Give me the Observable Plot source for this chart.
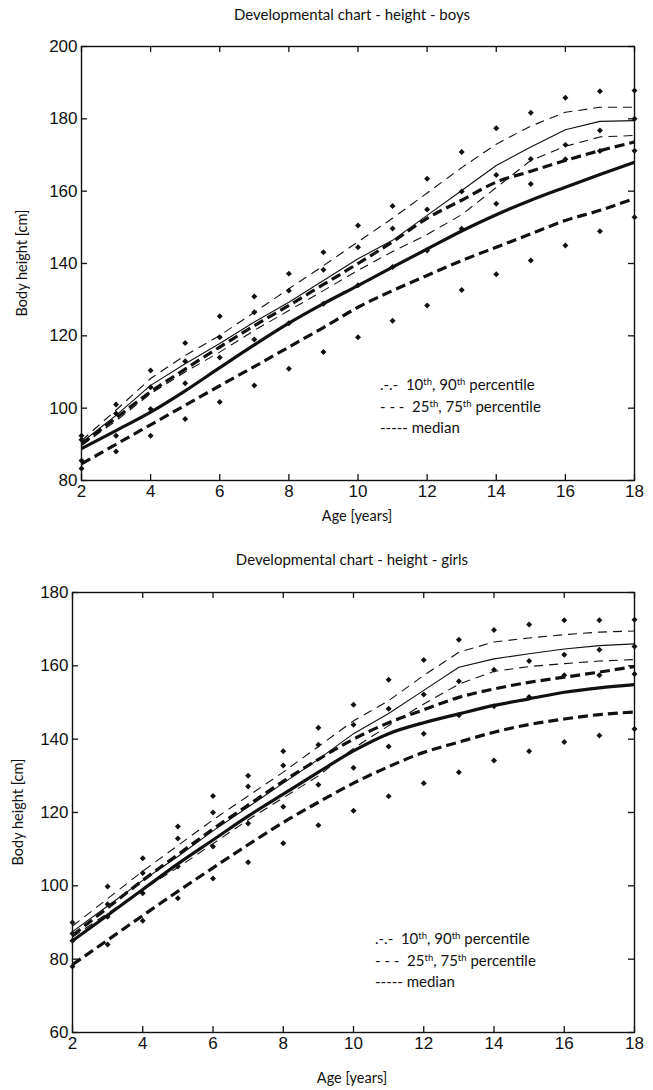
<!DOCTYPE html>
<html><head><meta charset="utf-8">
<script src="https://cdn.jsdelivr.net/npm/d3@7"></script>
<script src="https://cdn.jsdelivr.net/npm/@observablehq/plot@0.6"></script>
<style>
body{margin:0;background:#fff;width:653px;height:1090px;position:relative;overflow:hidden;font-family:Lato,"Open Sans",sans-serif;color:#111;}
.abs{position:absolute;white-space:nowrap;}
.title{font-size:15px;transform:translateX(-50%);}
.xlab{font-size:14.5px;transform:translateX(-50%);}
.ylab{font-size:14.5px;transform:translate(-50%,-50%) rotate(-90deg);}
.leg{font-size:15px;line-height:21.5px;}
.leg sup{font-size:9.5px;vertical-align:5px;line-height:0;}
</style></head><body>
<div id="c1" class="abs" style="left:0;top:0"></div>
<div id="c2" class="abs" style="left:0;top:546px"></div>
<div class="abs title" style="left:352px;top:5px">Developmental chart - height - boys</div>
<div class="abs xlab" style="left:357px;top:507px">Age [years]</div>
<div class="abs ylab" style="left:21px;top:263px">Body height [cm]</div>
<div class="abs leg" style="left:380px;top:374px">
<div>.-.-&nbsp; 10<sup>th</sup>, 90<sup>th</sup> percentile</div>
<div>- - -&nbsp; 25<sup>th</sup>, 75<sup>th</sup> percentile</div>
<div>----- median</div>
</div>
<div class="abs title" style="left:352px;top:550px">Developmental chart - height - girls</div>
<div class="abs xlab" style="left:352px;top:1069px">Age [years]</div>
<div class="abs ylab" style="left:17px;top:812px">Body height [cm]</div>
<div class="abs leg" style="left:375px;top:928px">
<div>.-.-&nbsp; 10<sup>th</sup>, 90<sup>th</sup> percentile</div>
<div>- - -&nbsp; 25<sup>th</sup>, 75<sup>th</sup> percentile</div>
<div>----- median</div>
</div>
<script>
const ages = [2,3,4,5,6,7,8,9,10,11,12,13,14,15,16,17,18];
const xTicks = [2,4,6,8,10,12,14,16,18];
const boysYTicks = [80,100,120,140,160,180,200];
const girlsYTicks = [60,80,100,120,140,160,180];

// Boys
const boysThinUpper = [91,99.5,108.2,114.6,120.1,126.5,133,139.4,146,152.5,159.5,166.5,173,178,181.8,183.2,183.2];
const boysThinMid   = [90.5,98,106.3,112.3,117.9,123.8,129.3,135.3,141.3,146.4,153.3,160.2,167.1,172.2,177,179.3,179.5];
const boysThinLower = [89.7,96.5,104,110,115.5,121.5,127,132.5,138.1,143.3,148,153.5,161,168.5,172.4,175,175.4];
const boysThickUpper = [90,97.3,104.5,110.8,116.9,122.8,128.4,134.2,140,146,152.5,157.5,162.5,165.5,168.5,171.2,173.6];
const boysThickMid   = [88.8,93.8,98.9,104.8,111.2,117.5,123.5,128.9,133.9,139,144,149,153.5,157.5,161.1,164.6,168];
const boysThickLower = [84.6,90,95.4,100.8,106.2,111.5,116.9,122.3,127.9,132.5,136.7,140.8,144.5,148.2,151.9,154.7,158];
const boysDot1 = [92.4,101,110.4,118,125.4,130.9,137.2,143.1,150.5,155.9,163.4,170.8,177.4,181.7,185.8,187.6,187.8];
const boysDot2 = [91.3,98.5,105.8,113,119.6,126.5,132.5,138.3,144.5,149.7,154.9,159.9,164.5,168.9,172.8,176.8,180];
const boysDot3 = [85.5,92.4,99.8,106.9,114,119,123.5,128.9,134,139,143.6,149.6,156.5,162,168.8,171.1,171.2];
const boysDot4 = [83.3,88,92.4,97,101.7,106.3,110.9,115.5,119.6,124.2,128.4,132.7,137,140.8,145,148.9,152.8];

// Girls
const girlsThinUpper = [89,96.5,104,111,118,124.5,131,138,145,150.5,157.4,163.7,166.5,167.6,168.5,169.2,169.5];
const girlsThinMid   = [87.5,94.5,101.5,108,115,121.5,128,134.5,141.5,147,153.3,159.6,161.9,163.3,164.6,165.5,166];
const girlsThinLower = [86,92.5,99,105,111.5,118,124,130,137.5,143.7,149.6,155,158.5,159.8,160.6,161.3,161.7];
const girlsThickUpper = [86.5,94,101.5,108.5,115.5,122,128.5,134.5,140,144.5,148,151.4,153.7,155.5,156.9,158.3,159.8];
const girlsThickMid   = [85,92,99,106,112.5,119,125,131,136.8,141.5,144.5,146.9,149.2,151,152.8,154,154.9];
const girlsThickLower = [78.5,85.2,91.9,98.5,104.9,111.2,117.3,122.8,128,132.5,136.4,139.2,141.9,144,145.5,146.7,147.4];
const girlsDot1 = [90,99.8,107.5,116.2,124.5,130,136.7,143.1,149.4,156.2,161.6,167.1,169.8,171.3,172.4,172.4,172.6];
const girlsDot2 = [87,95,103.5,112.9,120,127.1,132.8,138.5,143.9,148.3,152.2,155.8,158.9,161.3,163,164.4,165.3];
const girlsDot3 = [85,91.6,98,105.3,110.7,117,121.6,127.6,132.2,138,141.5,146.5,149,151.5,157.4,157.4,157.8];
const girlsDot4 = [78,84,90.5,96.6,102,106.4,111.6,116.5,120.5,124.4,128,131,134.2,136.7,139.2,141,142.8];

function chart(o) {
  const W = 653, mr = 19;
  const plotH = o.height - o.mt - o.mb, plotW = W - o.ml - mr;
  const ink = "#111";
  const line = (vals, opts) => Plot.line(vals, {x: (d, i) => ages[i], y: d => d, stroke: ink, strokeLinecap: "butt", ...opts});
  const dots = (vals) => Plot.dot(vals, {x: (d, i) => ages[i], y: d => d, symbol: "diamond2", r: 2.7, fill: ink, stroke: "none"});
  return Plot.plot({
    width: W, height: o.height,
    marginLeft: o.ml, marginRight: mr, marginTop: o.mt, marginBottom: o.mb,
    style: {fontFamily: "'Liberation Sans Narrow','Liberation Sans',Arial,sans-serif", fontSize: "17px", color: ink, background: "transparent"},
    x: {domain: [2, 18]},
    y: {domain: o.yDomain},
    marks: [
      Plot.tickX(xTicks, {x: d => d, insetTop: plotH - 6, stroke: ink, strokeWidth: 1.3}),
      Plot.tickX(xTicks, {x: d => d, insetBottom: plotH - 6, stroke: ink, strokeWidth: 1.3}),
      Plot.tickY(o.yTicks, {y: d => d, insetRight: plotW - 6, stroke: ink, strokeWidth: 1.3}),
      Plot.tickY(o.yTicks, {y: d => d, insetLeft: plotW - 6, stroke: ink, strokeWidth: 1.3}),
      Plot.axisX(xTicks, {tickSize: 0, tickPadding: 4, label: null}),
      Plot.axisY(o.yTicks, {tickSize: 0, tickPadding: 4, label: null}),
      line(o.thinUpper, {strokeWidth: 1.1, strokeDasharray: "9,6"}),
      line(o.thinMid, {strokeWidth: 1.1}),
      line(o.thinLower, {strokeWidth: 1.1, strokeDasharray: "9,6"}),
      line(o.thickUpper, {strokeWidth: 3.2, strokeDasharray: "10,5", curve: "monotone-x"}),
      line(o.thickMid, {strokeWidth: 3.2, curve: "monotone-x"}),
      line(o.thickLower, {strokeWidth: 3.2, strokeDasharray: "10,5", curve: "monotone-x"}),
      dots(o.d1), dots(o.d2), dots(o.d3), dots(o.d4),
      Plot.frame({stroke: ink, strokeWidth: 1.4})
    ]
  });
}

document.getElementById("c1").appendChild(chart({
  height: 510, mt: 46, mb: 30, ml: 81,
  yDomain: [80, 200], yTicks: boysYTicks,
  thinUpper: boysThinUpper, thinMid: boysThinMid, thinLower: boysThinLower,
  thickUpper: boysThickUpper, thickMid: boysThickMid, thickLower: boysThickLower,
  d1: boysDot1, d2: boysDot2, d3: boysDot3, d4: boysDot4
}));
document.getElementById("c2").appendChild(chart({
  height: 516, mt: 46, mb: 30, ml: 72,
  yDomain: [60, 180], yTicks: girlsYTicks,
  thinUpper: girlsThinUpper, thinMid: girlsThinMid, thinLower: girlsThinLower,
  thickUpper: girlsThickUpper, thickMid: girlsThickMid, thickLower: girlsThickLower,
  d1: girlsDot1, d2: girlsDot2, d3: girlsDot3, d4: girlsDot4
}));
</script>
</body></html>
